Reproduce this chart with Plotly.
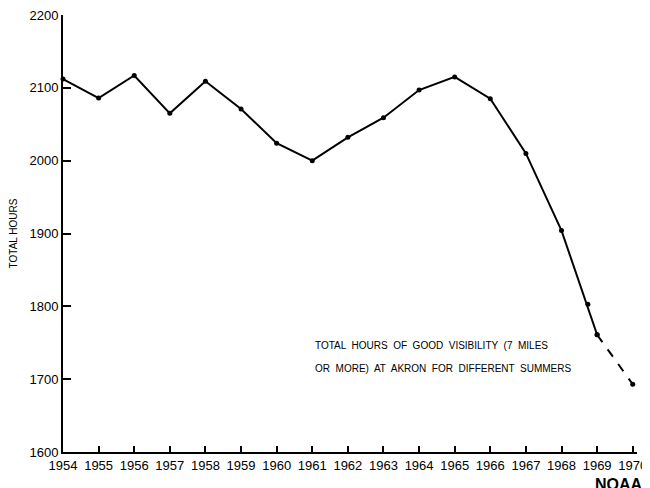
import plotly.graph_objects as go

years = [1954, 1955, 1956, 1957, 1958, 1959, 1960, 1961, 1962, 1963, 1964, 1965, 1966, 1967, 1968, 1969]
hours = [2112, 2086, 2117, 2065, 2109, 2071, 2024, 2000, 2032, 2059, 2097, 2115, 2085, 2010, 1904, 1761]
dash_years = [1969, 1970]
dash_hours = [1761, 1693]
extra_dot_x = [1968.74]
extra_dot_y = [1803]
x_ticks = list(range(1954, 1971))
y_ticks = [1600, 1700, 1800, 1900, 2000, 2100, 2200]

FONT = "Liberation Sans Narrow, Arial Narrow, sans-serif"
OFF = 8  # page body margin offset
L, R, T, B = 63 - OFF, 13, 15 - OFF, 36
W, H = 650 - OFF, 488 - OFF
pw = W - L - R
ph = H - T - B


def px(x):
    return (x - OFF - L) / pw


def py(y):
    return (H - B - (y - OFF)) / ph


fig = go.Figure()
fig.add_trace(go.Scatter(x=years, y=hours, mode="lines+markers",
                         line=dict(color="black", width=2),
                         marker=dict(color="black", size=5),
                         cliponaxis=False, showlegend=False))
fig.add_trace(go.Scatter(x=dash_years, y=dash_hours, mode="lines+markers",
                         line=dict(color="black", width=2, dash="dash"),
                         marker=dict(color="black", size=5),
                         cliponaxis=False, showlegend=False))
fig.add_trace(go.Scatter(x=extra_dot_x, y=extra_dot_y, mode="markers",
                         marker=dict(color="black", size=5),
                         showlegend=False))

fig.update_layout(
    width=W, height=H,
    margin=dict(l=L, r=R, t=T, b=B, autoexpand=False),
    paper_bgcolor="white", plot_bgcolor="white",
    font=dict(family=FONT, color="black", size=12),
    xaxis=dict(range=[1954, 1970.12], tickvals=x_ticks, ticktext=[str(v) for v in x_ticks],
               ticks="inside", ticklen=6, tickwidth=2, tickcolor="black",
               showline=True, linecolor="black", linewidth=2, showgrid=False,
               zeroline=False, automargin=False, ticklabeloverflow="allow",
               tickfont=dict(size=13, family=FONT)),
    yaxis=dict(range=[1600, 2200], tickvals=y_ticks, ticktext=[str(v) for v in y_ticks],
               ticks="inside", ticklen=8, tickwidth=2, tickcolor="black",
               showline=True, linecolor="black", linewidth=2, showgrid=False,
               zeroline=False, automargin=False, ticklabeloverflow="allow",
               tickfont=dict(size=13, family=FONT),
               title=dict(text="TOTAL HOURS", font=dict(size=10, family=FONT), standoff=27)),
    annotations=[
        dict(text="TOTAL  HOURS  OF  GOOD  VISIBILITY  (7  MILES", x=px(313), y=py(345),
             xref="paper", yref="paper", showarrow=False, xanchor="left", yanchor="middle",
             font=dict(size=10, family=FONT)),
        dict(text="OR  MORE)  AT  AKRON  FOR  DIFFERENT  SUMMERS", x=px(313), y=py(368),
             xref="paper", yref="paper", showarrow=False, xanchor="left", yanchor="middle",
             font=dict(size=10, family=FONT)),
        dict(text="<b>NOAA</b>", x=px(645), y=py(484), xref="paper", yref="paper",
             showarrow=False, xanchor="right", yanchor="middle",
             font=dict(size=16, family="Liberation Sans, Arial, sans-serif")),
    ],
)

fig.write_html("out.html")
